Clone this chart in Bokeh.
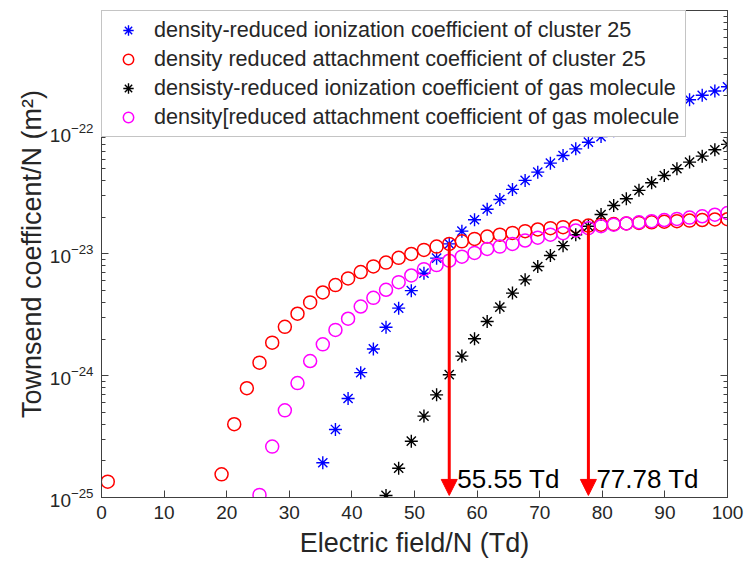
from bokeh.plotting import figure
from bokeh.models import (Legend, LegendItem, LogAxis, LinearAxis, Arrow, NormalHead,
                          FixedTicker, LogTicker, Range1d, Label)
from bokeh.embed import file_html
from bokeh.resources import INLINE

# ---------------- data ----------------
ion_cluster_x = [35.35, 37.37, 39.39, 41.41, 43.43, 45.45, 47.47, 49.49, 51.51, 53.53,
                 55.55, 57.57, 59.59, 61.61, 63.63, 65.65, 67.67, 69.69, 71.71, 73.73,
                 75.76, 77.78, 79.80, 81.82, 83.84, 85.86, 87.88, 89.90, 91.92, 93.94,
                 95.96, 97.98, 100.00]
ion_cluster_y = [1.93e-25, 3.62e-25, 6.5e-25, 1.06e-24, 1.66e-24, 2.5e-24, 3.59e-24, 5.0e-24,
                 6.95e-24, 9.24e-24, 1.21e-23, 1.54e-23, 1.91e-23, 2.33e-23, 2.80e-23, 3.39e-23,
                 4.02e-23, 4.7e-23, 5.57e-23, 6.44e-23, 7.3e-23, 8.28e-23, 9.2e-23, 1.03e-22,
                 1.15e-22, 1.28e-22, 1.41e-22, 1.55e-22, 1.70e-22, 1.85e-22, 2.01e-22,
                 2.18e-22, 2.36e-22]

att_cluster_x = [1.00, 19.18, 21.20, 23.22, 25.24, 27.27, 29.29, 31.31, 33.33, 35.35,
                 37.37, 39.39, 41.41, 43.43, 45.45, 47.47, 49.49, 51.51, 53.53, 55.55,
                 57.57, 59.59, 61.61, 63.63, 65.65, 67.67, 69.69, 71.71, 73.73, 75.76,
                 77.78, 79.80, 81.82, 83.84, 85.86, 87.88, 89.90, 91.92, 93.94, 95.96,
                 97.98, 100.00]
att_cluster_y = [1.35e-25, 1.55e-25, 4.0e-25, 7.9e-25, 1.28e-24, 1.87e-24, 2.52e-24, 3.23e-24,
                 4.0e-24, 4.83e-24, 5.55e-24, 6.3e-24, 7.1e-24, 7.9e-24, 8.5e-24, 9.3e-24,
                 1.0e-23, 1.08e-23, 1.15e-23, 1.21e-23, 1.27e-23, 1.33e-23, 1.39e-23, 1.44e-23,
                 1.49e-23, 1.54e-23, 1.59e-23, 1.63e-23, 1.66e-23, 1.69e-23, 1.71e-23, 1.74e-23,
                 1.76e-23, 1.78e-23, 1.80e-23, 1.82e-23, 1.84e-23, 1.86e-23, 1.88e-23, 1.90e-23,
                 1.92e-23, 1.93e-23]

ion_gas_x = [45.45, 47.47, 49.49, 51.51, 53.53, 55.55, 57.57, 59.59, 61.61, 63.63,
             65.65, 67.67, 69.69, 71.71, 73.73, 75.76, 77.78, 79.80, 81.82, 83.84,
             85.86, 87.88, 89.90, 91.92, 93.94, 95.96, 97.98, 100.00]
ion_gas_y = [1.04e-25, 1.74e-25, 2.9e-25, 4.66e-25, 6.97e-25, 1.02e-24, 1.45e-24, 2.01e-24,
             2.79e-24, 3.66e-24, 4.77e-24, 6.13e-24, 7.88e-24, 9.72e-24, 1.17e-23, 1.44e-23,
             1.69e-23, 2.11e-23, 2.50e-23, 2.84e-23, 3.33e-23, 3.84e-23, 4.41e-23, 5.01e-23,
             5.68e-23, 6.36e-23, 7.17e-23, 7.94e-23]

att_gas_x = [25.24, 27.27, 29.29, 31.31, 33.33, 35.35, 37.37, 39.39, 41.41, 43.43,
             45.45, 47.47, 49.49, 51.51, 53.53, 55.55, 57.57, 59.59, 61.61, 63.63,
             65.65, 67.67, 69.69, 71.71, 73.73, 75.76, 77.78, 79.80, 81.82, 83.84,
             85.86, 87.88, 89.90, 91.92, 93.94, 95.96, 97.98, 100.00]
att_gas_y = [1.05e-25, 2.62e-25, 5.2e-25, 8.7e-25, 1.32e-24, 1.81e-24, 2.38e-24, 2.94e-24,
             3.7e-24, 4.36e-24, 5.08e-24, 5.87e-24, 6.66e-24, 7.5e-24, 8.1e-24, 8.8e-24,
             9.5e-24, 1.02e-23, 1.10e-23, 1.15e-23, 1.21e-23, 1.29e-23, 1.36e-23, 1.44e-23,
             1.48e-23, 1.56e-23, 1.63e-23, 1.69e-23, 1.74e-23, 1.78e-23, 1.82e-23, 1.86e-23,
             1.90e-23, 1.94e-23, 1.99e-23, 2.04e-23, 2.10e-23, 2.17e-23]

series_labels = [
    "density-reduced ionization coefficient of cluster 25",
    "density reduced attachment coefficient of cluster 25",
    "densisty-reduced ionization coefficient of gas molecule",
    "density[reduced attachment coefficient of gas molecule",
]

cross_x = [55.55, 77.78]
cross_y = [1.25e-23, 1.72e-23]
cross_text = ["55.55 Td", "77.78 Td"]
arrow_tip_y = 1.04e-25
cross_text_y = 1.43e-25

x_ticks = [0, 10, 20, 30, 40, 50, 60, 70, 80, 90, 100]

FONT = "Liberation Sans"
TXT = "#262626"
AX = "#404040"

p = figure(width=744, height=566,
           x_range=Range1d(0, 100), y_range=Range1d(1e-25, 0.999e-21),
           y_axis_type="log", output_backend="svg", toolbar_location=None,
           min_border_left=101, min_border_right=17, min_border_top=10,
           min_border_bottom=69)
p.background_fill_color = "white"
p.border_fill_color = "white"
p.outline_line_color = AX
p.outline_line_width = 1
p.grid.visible = False

xa = p.xaxis[0]
xa.ticker = FixedTicker(ticks=x_ticks)
xa.axis_label = "Electric field/N (Td)"
ya = p.yaxis[0]
ya.ticker = LogTicker(num_minor_ticks=10)
ya.axis_label = "Townsend coefficent/N (m²)"

for ax in (xa, ya):
    ax.axis_line_color = AX
    ax.major_tick_in = 7
    ax.major_tick_out = 0
    ax.minor_tick_in = 4
    ax.minor_tick_out = 0
    ax.major_tick_line_color = AX
    ax.minor_tick_line_color = AX
    ax.major_label_text_font = FONT
    ax.major_label_text_font_size = "19px"
    ax.major_label_text_color = TXT
    ax.axis_label_text_font = FONT
    ax.axis_label_text_font_size = "27px"
    ax.axis_label_text_font_style = "normal"
    ax.axis_label_text_color = TXT
xa.major_label_standoff = 8
xa.axis_label_standoff = 6
ya.major_label_standoff = 8
ya.axis_label_standoff = 0

# mirrored axes (box with inward ticks), labels hidden
ta = LinearAxis(ticker=FixedTicker(ticks=x_ticks), major_label_overrides={t: "" for t in x_ticks})
ra = LogAxis(ticker=LogTicker(num_minor_ticks=10))
for ax in (ta, ra):
    ax.axis_line_color = AX
    ax.major_tick_in = 7
    ax.major_tick_out = 0
    ax.minor_tick_in = 4
    ax.minor_tick_out = 0
    ax.major_tick_line_color = AX
    ax.minor_tick_line_color = AX
    ax.major_label_text_font_size = "8px"
    ax.major_label_text_alpha = 0
    ax.major_label_standoff = 0
p.add_layout(ta, "above")
p.add_layout(ra, "right")

r_ion_cluster = p.scatter(ion_cluster_x, ion_cluster_y, marker="asterisk", size=13,
                          line_color="#0000ff", line_width=1.4)
r_att_cluster = p.scatter(att_cluster_x, att_cluster_y, marker="circle", size=13,
                          line_color="#ff0000", fill_color=None, line_width=1.5)
r_ion_gas = p.scatter(ion_gas_x, ion_gas_y, marker="asterisk", size=13,
                      line_color="#000000", line_width=1.4)
r_att_gas = p.scatter(att_gas_x, att_gas_y, marker="circle", size=13,
                      line_color="#ff00ff", fill_color=None, line_width=1.5)

for cx, cy, ct in zip(cross_x, cross_y, cross_text):
    p.add_layout(Arrow(end=NormalHead(size=16, fill_color="#ff0000", line_color="#ff0000",
                                      line_width=1),
                       x_start=cx, y_start=cy, x_end=cx, y_end=arrow_tip_y,
                       line_color="#ff0000", line_width=3))
    p.add_layout(Label(x=cx, y=cross_text_y, x_offset=8, text=ct, text_font=FONT,
                       text_font_size="26px", text_color="#000000",
                       text_baseline="alphabetic"))

legend = Legend(items=[
    LegendItem(label=series_labels[0], renderers=[r_ion_cluster]),
    LegendItem(label=series_labels[1], renderers=[r_att_cluster]),
    LegendItem(label=series_labels[2], renderers=[r_ion_gas]),
    LegendItem(label=series_labels[3], renderers=[r_att_gas]),
], location="top_left")
legend.margin = 0
legend.padding = 6
legend.spacing = 3
legend.label_height = 26
legend.glyph_height = 26
legend.glyph_width = 40
legend.label_standoff = 6
legend.label_text_font = FONT
legend.label_text_font_size = "21.6px"
legend.label_text_color = TXT
legend.border_line_color = "#8a8a8a"
legend.border_line_width = 1
legend.background_fill_color = "white"
legend.background_fill_alpha = 1
p.add_layout(legend)

open("out.html", "w").write(file_html(p, INLINE))
